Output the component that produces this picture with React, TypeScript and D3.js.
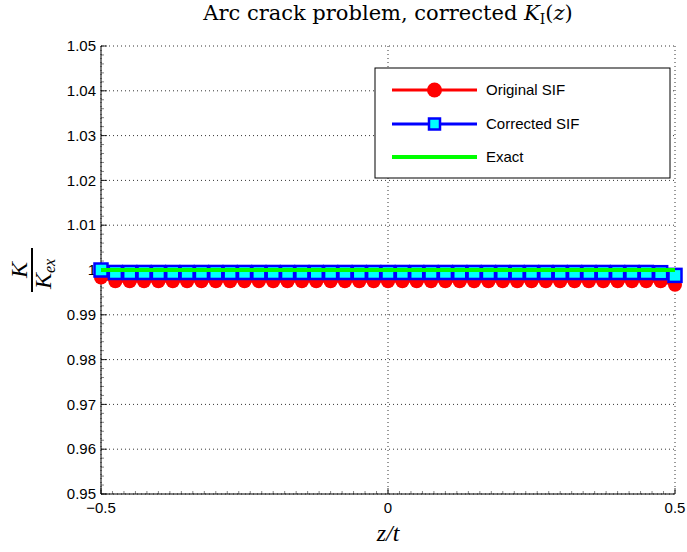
import React from "react";
import * as d3 from "d3";

const zValues = [
  -0.5, -0.475, -0.45, -0.425, -0.4, -0.375, -0.35, -0.325, -0.3, -0.275,
  -0.25, -0.225, -0.2, -0.175, -0.15, -0.125, -0.1, -0.075, -0.05, -0.025,
  0, 0.025, 0.05, 0.075, 0.1, 0.125, 0.15, 0.175, 0.2, 0.225,
  0.25, 0.275, 0.3, 0.325, 0.35, 0.375, 0.4, 0.425, 0.45, 0.475, 0.5,
];
const originalSIF = [
  0.9983, 0.9975, 0.9975, 0.9975, 0.9975, 0.9975, 0.9975, 0.9975, 0.9975, 0.9975,
  0.9975, 0.9975, 0.9975, 0.9975, 0.9975, 0.9975, 0.9975, 0.9975, 0.9975, 0.9975,
  0.9975, 0.9975, 0.9975, 0.9975, 0.9975, 0.9975, 0.9975, 0.9975, 0.9975, 0.9975,
  0.9975, 0.9975, 0.9975, 0.9975, 0.9975, 0.9975, 0.9975, 0.9975, 0.9975, 0.9975, 0.9967,
];
const correctedSIF = [
  1.0, 0.99945, 0.99945, 0.99945, 0.99945, 0.99945, 0.99945, 0.99945, 0.99945, 0.99945,
  0.99945, 0.99945, 0.99945, 0.99945, 0.99945, 0.99945, 0.99945, 0.99945, 0.99945, 0.99945,
  0.99945, 0.99945, 0.99945, 0.99945, 0.99945, 0.99945, 0.99945, 0.99945, 0.99945, 0.99945,
  0.99945, 0.99945, 0.99945, 0.99945, 0.99945, 0.99945, 0.99945, 0.99945, 0.99945, 0.9994, 0.9988,
];
const exactZ = [-0.5, 0.5];
const exactSIF = [1, 1];

const xTicks = [-0.5, 0, 0.5];
const xTickLabels = ["\u22120.5", "0", "0.5"];
const yTicks = [0.95, 0.96, 0.97, 0.98, 0.99, 1, 1.01, 1.02, 1.03, 1.04, 1.05];
const yTickLabels = ["0.95", "0.96", "0.97", "0.98", "0.99", "1", "1.01", "1.02", "1.03", "1.04", "1.05"];
const legendLabels = ["Original SIF", "Corrected SIF", "Exact"];

export default function App() {
  const W = 687, H = 552;
  const left = 101, right = 675, top = 46, bottom = 494;
  const x = d3.scaleLinear().domain([-0.5, 0.5]).range([left, right]);
  const y = d3.scaleLinear().domain([0.95, 1.05]).range([bottom, top]);

  const line = d3.line<[number, number]>().x(d => x(d[0])).y(d => y(d[1]));
  const orig: [number, number][] = zValues.map((z, i) => [z, originalSIF[i]]);
  const corr: [number, number][] = zValues.map((z, i) => [z, correctedSIF[i]]);
  const ex: [number, number][] = exactZ.map((z, i) => [z, exactSIF[i]]);

  const yMinor = d3.range(0, 51).map(i => 0.95 + i * 0.002);
  const xMinor = d3.range(0, 51).map(i => -0.5 + i * 0.02);

  const sans = "'Liberation Sans', Arial, sans-serif";
  const mathSerif = "'Liberation Serif', 'DejaVu Serif', serif";
  const titleSerif = "'DejaVu Serif', serif";

  const lgX = 375, lgY = 68, lgW = 295, lgH = 110;
  const rowY = [90, 124, 157];

  return (
    <svg width={W} height={H} style={{ position: "absolute", left: 0, top: 0, background: "#fff" }}>
      <rect x={0} y={0} width={W} height={H} fill="#fff" />
      {/* grid */}
      {yTicks.map((t, i) => (
        <line key={"gy" + i} x1={left} x2={right} y1={y(t)} y2={y(t)} stroke="#000" strokeWidth={0.8} strokeDasharray="1,3" />
      ))}
      {xTicks.map((t, i) => (
        <line key={"gx" + i} x1={x(t)} x2={x(t)} y1={top} y2={bottom} stroke="#000" strokeWidth={0.8} strokeDasharray="1,3" />
      ))}
      {/* minor ticks */}
      {yMinor.map((t, i) => (
        <line key={"my" + i} x1={left} x2={left + 3} y1={y(t)} y2={y(t)} stroke="#333" strokeWidth={0.6} />
      ))}
      {xMinor.map((t, i) => (
        <line key={"mx" + i} x1={x(t)} x2={x(t)} y1={bottom} y2={bottom - 3} stroke="#333" strokeWidth={0.6} />
      ))}
      {/* major ticks */}
      {yTicks.map((t, i) => (
        <line key={"ty" + i} x1={left} x2={left + 6} y1={y(t)} y2={y(t)} stroke="#000" strokeWidth={0.8} />
      ))}
      {xTicks.map((t, i) => (
        <line key={"tx" + i} x1={x(t)} x2={x(t)} y1={bottom} y2={bottom - 6} stroke="#000" strokeWidth={0.8} />
      ))}
      {/* axes lines */}
      <line x1={left} x2={left} y1={top} y2={bottom} stroke="#000" strokeWidth={1} />
      <line x1={left} x2={right} y1={bottom} y2={bottom} stroke="#000" strokeWidth={1} />
      {/* tick labels */}
      {yTicks.map((t, i) => (
        <text key={"ly" + i} x={left - 5} y={y(t)} dy="0.35em" textAnchor="end" fontFamily={sans} fontSize={15} fill="#000">
          {yTickLabels[i]}
        </text>
      ))}
      {xTicks.map((t, i) => (
        <text key={"lx" + i} x={x(t)} y={bottom + 19} textAnchor="middle" fontFamily={sans} fontSize={15} fill="#000">
          {xTickLabels[i]}
        </text>
      ))}

      {/* Original SIF */}
      <path d={line(orig) || ""} fill="none" stroke="#ff0000" strokeWidth={3} />
      {orig.map((d, i) => (
        <circle key={"o" + i} cx={x(d[0])} cy={y(d[1])} r={7} fill="#ff0000" />
      ))}
      {/* Corrected SIF */}
      <path d={line(corr) || ""} fill="none" stroke="#0000ff" strokeWidth={3} />
      {corr.map((d, i) => (
        <rect key={"c" + i} x={x(d[0]) - 6.5} y={y(d[1]) - 6.5} width={13} height={13} fill="#00ffff" stroke="#0000ff" strokeWidth={2.5} />
      ))}
      {/* Exact */}
      <path d={line(ex) || ""} fill="none" stroke="#00ff00" strokeWidth={4} />

      {/* legend */}
      <rect x={lgX} y={lgY} width={lgW} height={lgH} fill="#fff" stroke="#000" strokeWidth={1} />
      <line x1={392} x2={477} y1={rowY[0]} y2={rowY[0]} stroke="#ff0000" strokeWidth={3} />
      <circle cx={434.5} cy={rowY[0]} r={7.5} fill="#ff0000" />
      <line x1={392} x2={477} y1={rowY[1]} y2={rowY[1]} stroke="#0000ff" strokeWidth={3} />
      <rect x={434.5 - 5.5} y={rowY[1] - 5.5} width={11} height={11} fill="#00ffff" stroke="#0000ff" strokeWidth={2.5} />
      <line x1={392} x2={477} y1={rowY[2]} y2={rowY[2]} stroke="#00ff00" strokeWidth={4} />
      {legendLabels.map((s, i) => (
        <text key={"lg" + i} x={486} y={rowY[i]} dy="0.35em" fontFamily={sans} fontSize={15} fill="#000">
          {s}
        </text>
      ))}

      {/* title */}
      <text x={388} y={20} textAnchor="middle" fontFamily={titleSerif} fontSize={21} fill="#000">
        Arc crack problem, corrected <tspan fontStyle="italic">K</tspan>
        <tspan fontSize={14} dy={4}>I</tspan>
        <tspan dy={-4}>(</tspan>
        <tspan fontStyle="italic">z</tspan>
        <tspan>)</tspan>
      </text>

      {/* x label */}
      <text x={388} y={541} textAnchor="middle" fontFamily={mathSerif} fontStyle="italic" fontSize={24} fill="#000">
        z/t
      </text>

      {/* y label: fraction K / K_ex rotated */}
      <g transform="translate(32,270) rotate(-90)">
        <line x1={-22} x2={22} y1={0} y2={0} stroke="#000" strokeWidth={2} />
        <text x={0} y={-5} textAnchor="middle" fontFamily={mathSerif} fontStyle="italic" fontSize={24} fill="#000">K</text>
        <text x={-4} y={19} textAnchor="middle" fontFamily={mathSerif} fontStyle="italic" fontSize={24} fill="#000">
          K<tspan fontSize={16} dy={4}>ex</tspan>
        </text>
      </g>
    </svg>
  );
}
